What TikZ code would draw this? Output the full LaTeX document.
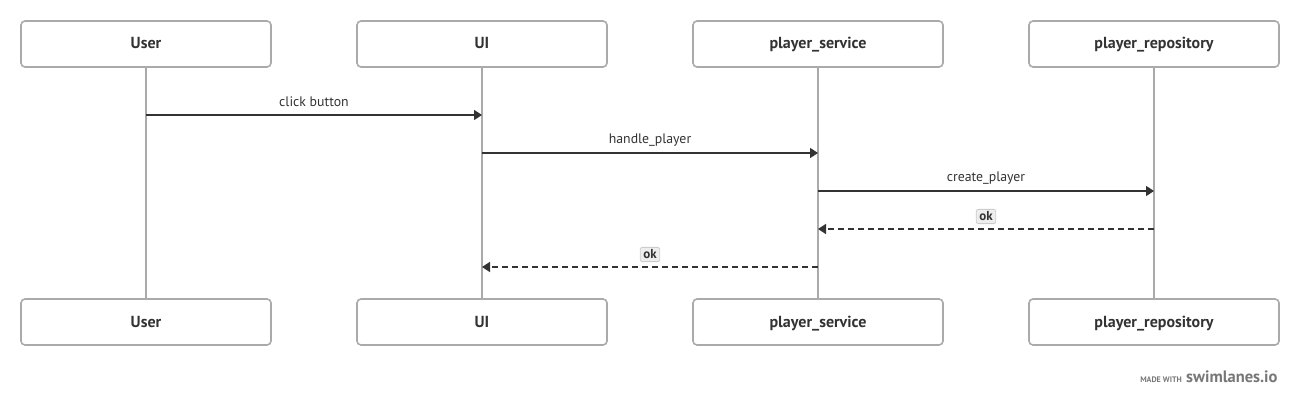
\documentclass[tikz,border=0pt]{standalone}
\usepackage{fontspec}
\setmainfont{PT Sans}
\usetikzlibrary{arrows.meta}
\definecolor{boxgray}{HTML}{AAAAAA}
\definecolor{linedark}{HTML}{333333}
\definecolor{txt}{HTML}{333333}
\definecolor{okfill}{HTML}{EEEEEE}
\definecolor{okdraw}{HTML}{CCCCCC}
\definecolor{wm}{HTML}{777777}
\begin{document}
\begin{tikzpicture}[x=1pt,y=-1pt,
  actor/.style={draw=boxgray,line width=1.6pt,rounded corners=4pt,fill=white,
    minimum width=250pt,minimum height=46pt,inner sep=0pt,
    text height=11pt,text depth=1pt,
    font=\fontsize{16}{18}\selectfont\bfseries,text=txt},
  lifeline/.style={draw=boxgray,line width=1.6pt},
  msg/.style={draw=linedark,line width=1.6pt,-{Triangle[length=8pt,width=10pt]}},
  ret/.style={msg,dash pattern=on 6pt off 4pt},
  lbl/.style={font=\fontsize{13.8}{16}\selectfont,text=txt,inner sep=0pt},
  oklbl/.style={font=\fontsize{13}{15}\selectfont\bfseries,text=txt,fill=okfill,draw=okdraw,
    line width=0.8pt,rounded corners=2pt,inner xsep=3pt,inner ysep=2.5pt}
]
\useasboundingbox (0,0) rectangle (1300,406);
% top actors
\node[actor] (u1) at (146,44) {User};
\node[actor] (ui1) at (482,44) {UI};
\node[actor] (ps1) at (818,44) {player\_service};
\node[actor] (pr1) at (1154,44) {player\_repository};
% bottom actors
\node[actor] (u2) at (146,322) {User};
\node[actor] (ui2) at (482,322) {UI};
\node[actor] (ps2) at (818,322) {player\_service};
\node[actor] (pr2) at (1154,322) {player\_repository};
% lifelines
\draw[lifeline] (u1.south) -- (u2.north);
\draw[lifeline] (ui1.south) -- (ui2.north);
\draw[lifeline] (ps1.south) -- (ps2.north);
\draw[lifeline] (pr1.south) -- (pr2.north);
% message anchor coordinates
\coordinate (a1) at (146,115); \coordinate (b1) at (482,115);
\coordinate (a2) at (482,153); \coordinate (b2) at (818,153);
\coordinate (a3) at (818,191); \coordinate (b3) at (1154,191);
\coordinate (a4) at (1154,229); \coordinate (b4) at (818,229);
\coordinate (a5) at (818,267); \coordinate (b5) at (482,267);
% messages
\draw[msg] (a1) -- (b1);
\node[lbl] (l1) at (314,102) {click button};
\draw[msg] (a2) -- (b2);
\node[lbl] (l2) at (650,140) {handle\_player};
\draw[msg] (a3) -- (b3);
\node[lbl] (l3) at (986,178) {create\_player};
\draw[ret] (a4) -- (b4);
\node[oklbl] (l4) at (986,216.5) {ok};
\draw[ret] (a5) -- (b5);
\node[oklbl] (l5) at (650,254.5) {ok};
% watermark
\node[anchor=base east,inner sep=0pt,text=wm,font=\fontsize{8}{9}\selectfont\bfseries] (wm1) at (1182,382) {MADE WITH};
\node[anchor=base west,inner sep=0pt,text=wm,font=\fontsize{16.5}{18}\selectfont\bfseries] (wm2) at (1186,382) {swimlanes.io};
\end{tikzpicture}
\end{document}
